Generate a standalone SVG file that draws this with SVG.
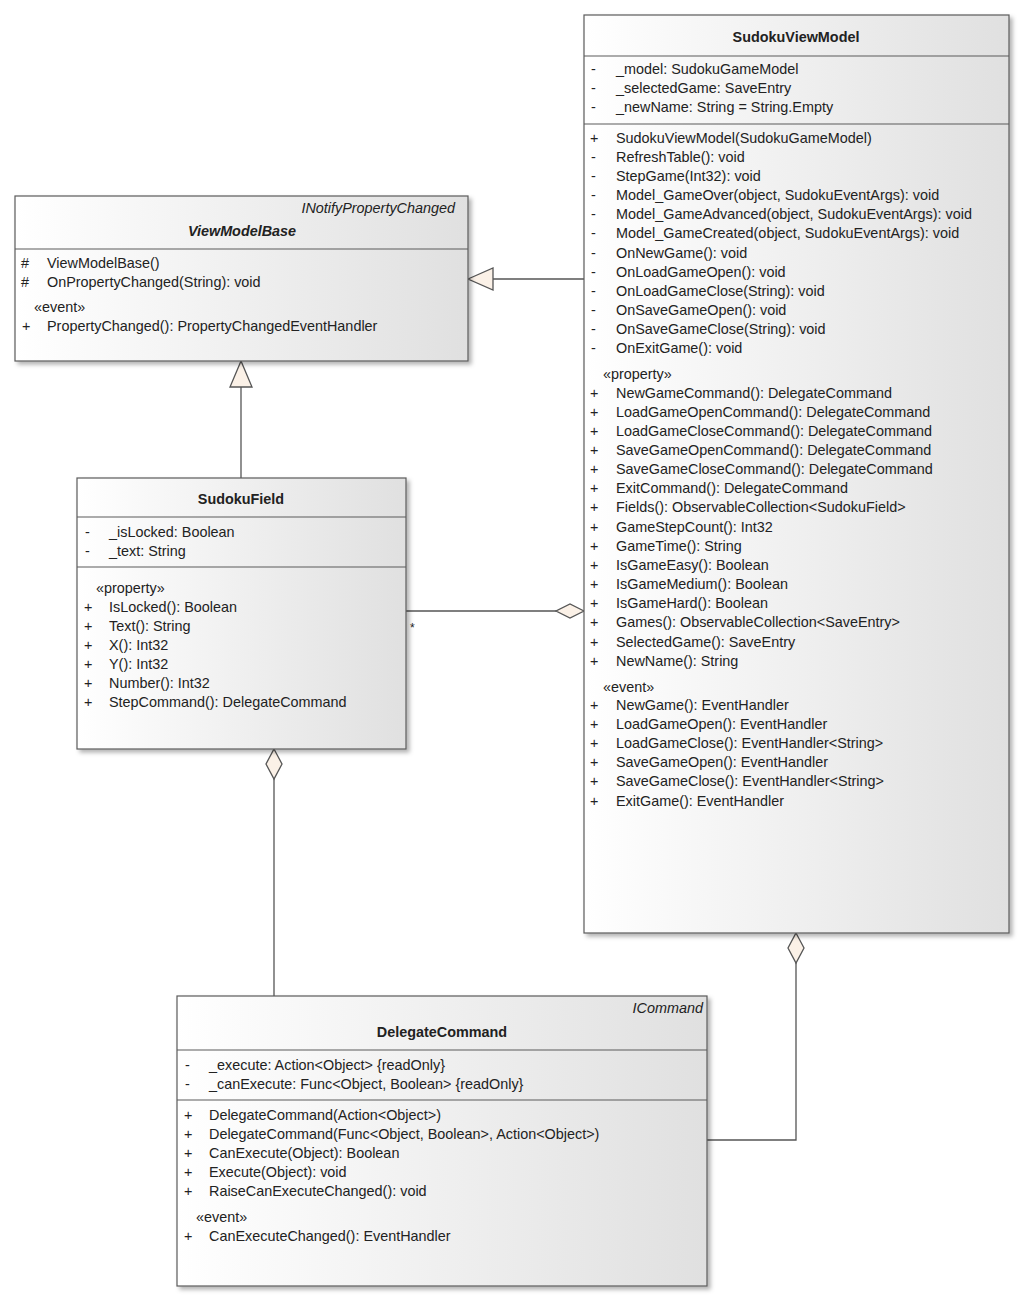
<svg xmlns="http://www.w3.org/2000/svg" width="1024" height="1301" viewBox="0 0 1024 1301">
<defs>
<linearGradient id="g" x1="0" y1="0" x2="1" y2="0"><stop offset="0" stop-color="#ffffff"/><stop offset="1" stop-color="#e0e0e0"/></linearGradient>
<filter id="sh" x="-5%" y="-5%" width="115%" height="115%"><feDropShadow dx="3" dy="3" stdDeviation="2" flood-color="#000" flood-opacity="0.3"/></filter>
<style>
.box{fill:url(#g);stroke:#5a5a5a;stroke-width:1.2;filter:url(#sh)}
.div{stroke:#5a5a5a;stroke-width:1.2}
text{font-family:"Liberation Sans",Arial,sans-serif;font-size:14.4px;fill:#222}
.b{font-weight:bold}
.bi{font-weight:bold;font-style:italic}
.i{font-style:italic}
.e{text-anchor:end}
.m{text-anchor:middle}
.ln{fill:none;stroke:#555;stroke-width:1.3}
.hd{fill:#fbf1e7;stroke:#555;stroke-width:1.3}
</style>
</defs>
<rect width="1024" height="1301" fill="#fff"/>

<g id="connectors">
<path class="ln" d="M584,279 H493"/>
<polygon class="hd" points="468,279 493,268 493,290"/>
<path class="ln" d="M241,478 V387"/>
<polygon class="hd" points="241,361 230,387 252,387"/>
<path class="ln" d="M406,611 H556"/>
<polygon class="hd" points="584,611 570,604 556,611 570,618"/>
<text x="410" y="632" style="font-size:12px">*</text>
<path class="ln" d="M274,779 V996"/>
<polygon class="hd" points="274,749 282,764 274,779 266,764"/>
<path class="ln" d="M796,963 V1140 H707"/>
<polygon class="hd" points="796,933 804,948 796,963 788,948"/>
</g>

<g id="SudokuViewModel">
<rect class="box" x="584" y="15" width="425" height="918"/>
<line class="div" x1="584" y1="56" x2="1009" y2="56"/>
<line class="div" x1="584" y1="124" x2="1009" y2="124"/>
<text class="b m" x="796" y="42">SudokuViewModel</text>
<text x="591" y="74">-</text><text x="616" y="74">_model: SudokuGameModel</text>
<text x="591" y="93">-</text><text x="616" y="93">_selectedGame: SaveEntry</text>
<text x="591" y="112">-</text><text x="616" y="112">_newName: String = String.Empty</text>
<text x="590" y="143">+</text><text x="616" y="143">SudokuViewModel(SudokuGameModel)</text>
<text x="591" y="162">-</text><text x="616" y="162">RefreshTable(): void</text>
<text x="591" y="181">-</text><text x="616" y="181">StepGame(Int32): void</text>
<text x="591" y="200">-</text><text x="616" y="200">Model_GameOver(object, SudokuEventArgs): void</text>
<text x="591" y="219">-</text><text x="616" y="219">Model_GameAdvanced(object, SudokuEventArgs): void</text>
<text x="591" y="238">-</text><text x="616" y="238">Model_GameCreated(object, SudokuEventArgs): void</text>
<text x="591" y="258">-</text><text x="616" y="258">OnNewGame(): void</text>
<text x="591" y="277">-</text><text x="616" y="277">OnLoadGameOpen(): void</text>
<text x="591" y="296">-</text><text x="616" y="296">OnLoadGameClose(String): void</text>
<text x="591" y="315">-</text><text x="616" y="315">OnSaveGameOpen(): void</text>
<text x="591" y="334">-</text><text x="616" y="334">OnSaveGameClose(String): void</text>
<text x="591" y="353">-</text><text x="616" y="353">OnExitGame(): void</text>
<text x="603" y="379">«property»</text>
<text x="590" y="398">+</text><text x="616" y="398">NewGameCommand(): DelegateCommand</text>
<text x="590" y="417">+</text><text x="616" y="417">LoadGameOpenCommand(): DelegateCommand</text>
<text x="590" y="436">+</text><text x="616" y="436">LoadGameCloseCommand(): DelegateCommand</text>
<text x="590" y="455">+</text><text x="616" y="455">SaveGameOpenCommand(): DelegateCommand</text>
<text x="590" y="474">+</text><text x="616" y="474">SaveGameCloseCommand(): DelegateCommand</text>
<text x="590" y="493">+</text><text x="616" y="493">ExitCommand(): DelegateCommand</text>
<text x="590" y="512">+</text><text x="616" y="512">Fields(): ObservableCollection&lt;SudokuField&gt;</text>
<text x="590" y="532">+</text><text x="616" y="532">GameStepCount(): Int32</text>
<text x="590" y="551">+</text><text x="616" y="551">GameTime(): String</text>
<text x="590" y="570">+</text><text x="616" y="570">IsGameEasy(): Boolean</text>
<text x="590" y="589">+</text><text x="616" y="589">IsGameMedium(): Boolean</text>
<text x="590" y="608">+</text><text x="616" y="608">IsGameHard(): Boolean</text>
<text x="590" y="627">+</text><text x="616" y="627">Games(): ObservableCollection&lt;SaveEntry&gt;</text>
<text x="590" y="647">+</text><text x="616" y="647">SelectedGame(): SaveEntry</text>
<text x="590" y="666">+</text><text x="616" y="666">NewName(): String</text>
<text x="603" y="692">«event»</text>
<text x="590" y="710">+</text><text x="616" y="710">NewGame(): EventHandler</text>
<text x="590" y="729">+</text><text x="616" y="729">LoadGameOpen(): EventHandler</text>
<text x="590" y="748">+</text><text x="616" y="748">LoadGameClose(): EventHandler&lt;String&gt;</text>
<text x="590" y="767">+</text><text x="616" y="767">SaveGameOpen(): EventHandler</text>
<text x="590" y="786">+</text><text x="616" y="786">SaveGameClose(): EventHandler&lt;String&gt;</text>
<text x="590" y="806">+</text><text x="616" y="806">ExitGame(): EventHandler</text>
</g>

<g id="ViewModelBase">
<rect class="box" x="15" y="196" width="453" height="165"/>
<line class="div" x1="15" y1="249" x2="468" y2="249"/>
<text class="i e" x="455" y="213">INotifyPropertyChanged</text>
<text class="bi m" x="242" y="236">ViewModelBase</text>
<text x="21" y="268">#</text><text x="47" y="268">ViewModelBase()</text>
<text x="21" y="287">#</text><text x="47" y="287">OnPropertyChanged(String): void</text>
<text x="34" y="312">«event»</text>
<text x="22" y="331">+</text><text x="47" y="331">PropertyChanged(): PropertyChangedEventHandler</text>
</g>

<g id="SudokuField">
<rect class="box" x="77" y="478" width="329" height="271"/>
<line class="div" x1="77" y1="517" x2="406" y2="517"/>
<line class="div" x1="77" y1="567" x2="406" y2="567"/>
<text class="b m" x="241" y="504">SudokuField</text>
<text x="85" y="537">-</text><text x="109" y="537">_isLocked: Boolean</text>
<text x="85" y="556">-</text><text x="109" y="556">_text: String</text>
<text x="96" y="593">«property»</text>
<text x="84" y="612">+</text><text x="109" y="612">IsLocked(): Boolean</text>
<text x="84" y="631">+</text><text x="109" y="631">Text(): String</text>
<text x="84" y="650">+</text><text x="109" y="650">X(): Int32</text>
<text x="84" y="669">+</text><text x="109" y="669">Y(): Int32</text>
<text x="84" y="688">+</text><text x="109" y="688">Number(): Int32</text>
<text x="84" y="707">+</text><text x="109" y="707">StepCommand(): DelegateCommand</text>
</g>

<g id="DelegateCommand">
<rect class="box" x="177" y="996" width="530" height="290"/>
<line class="div" x1="177" y1="1050" x2="707" y2="1050"/>
<line class="div" x1="177" y1="1100" x2="707" y2="1100"/>
<text class="i e" x="703" y="1013">ICommand</text>
<text class="b m" x="442" y="1037">DelegateCommand</text>
<text x="185" y="1070">-</text><text x="209" y="1070">_execute: Action&lt;Object&gt; {readOnly}</text>
<text x="185" y="1089">-</text><text x="209" y="1089">_canExecute: Func&lt;Object, Boolean&gt; {readOnly}</text>
<text x="184" y="1120">+</text><text x="209" y="1120">DelegateCommand(Action&lt;Object&gt;)</text>
<text x="184" y="1139">+</text><text x="209" y="1139">DelegateCommand(Func&lt;Object, Boolean&gt;, Action&lt;Object&gt;)</text>
<text x="184" y="1158">+</text><text x="209" y="1158">CanExecute(Object): Boolean</text>
<text x="184" y="1177">+</text><text x="209" y="1177">Execute(Object): void</text>
<text x="184" y="1196">+</text><text x="209" y="1196">RaiseCanExecuteChanged(): void</text>
<text x="196" y="1222">«event»</text>
<text x="184" y="1241">+</text><text x="209" y="1241">CanExecuteChanged(): EventHandler</text>
</g>
</svg>
